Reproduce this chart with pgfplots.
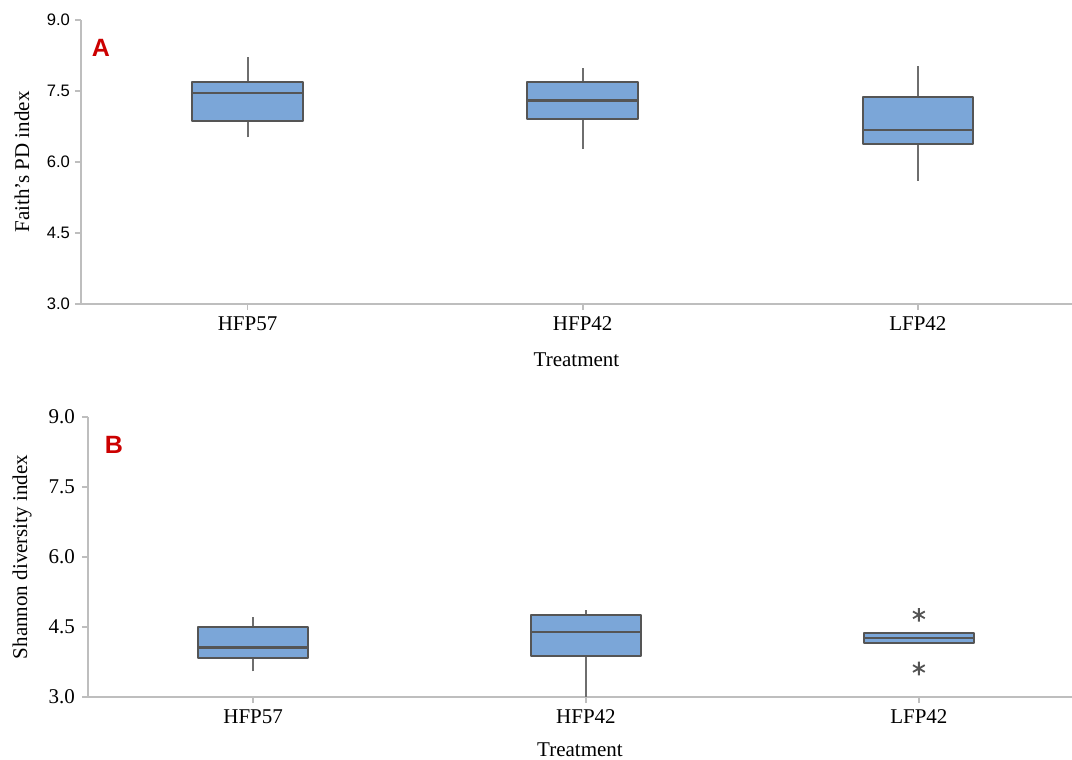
\documentclass[border=0pt]{standalone}
\usepackage{pgfplots}
\pgfplotsset{compat=1.18}
\usepackage{fontspec}
\setmainfont{Liberation Serif}
\newfontfamily\sansf{Liberation Sans}
\definecolor{boxfill}{RGB}{123,166,216}
\definecolor{boxline}{RGB}{85,85,85}
\definecolor{whiskc}{RGB}{110,110,110}
\definecolor{axisc}{RGB}{190,190,190}
\definecolor{lblred}{RGB}{204,0,0}
\pgfplotsset{
  panel/.style={
    scale only axis, axis lines=left, axis line style={draw=axisc, line width=0.8pt, -},
    tick align=outside, major tick length=3pt, tick style={draw=axisc, line width=0.8pt},
    ymin=3, ymax=9, ytick={3,4.5,6,7.5,9},
    xtick={0,1,2}, xticklabels={HFP57,HFP42,LFP42},
    yticklabel={\pgfmathprintnumber[fixed, fixed zerofill, precision=1, assume math mode=true]{\tick}},
    xticklabel style={font=\fontsize{10.5}{12}\selectfont, yshift=0pt},
    label style={font=\fontsize{10.5}{12}\selectfont},
    xlabel={Treatment},
    clip=false,
  },
}
% box: left x, centre x, right x, lower whisker, lower quartile, median, upper quartile, upper whisker
\newcommand{\bx}[8]{%
  \addplot[draw=whiskc, line width=1pt] coordinates {(#2,#4) (#2,#5)};
  \addplot[draw=whiskc, line width=1pt] coordinates {(#2,#7) (#2,#8)};
  \addplot[draw=boxline, fill=boxfill, line width=1pt, line join=round] coordinates {(#1,#5) (#3,#5) (#3,#7) (#1,#7)} -- cycle;
  \addplot[draw=boxline, line width=1.2pt] coordinates {(#1,#6) (#3,#6)};
}
\begin{document}
\begin{tikzpicture}
\useasboundingbox (0,0) rectangle (536pt,380pt);
% Panel A
\begin{axis}[panel, at={(40.5pt,228pt)}, anchor=south west, width=495.5pt, height=142pt,
  xmin=-0.497, xmax=2.46,
  yticklabel style={font=\sansf\fontsize{8.3}{10}\selectfont, xshift=1pt},
  ylabel={Faith's PD index},
  xlabel style={at={(axis description cs:0.5,0)}, anchor=center, yshift=-28pt},
  ylabel style={at={(axis description cs:0,0.5)}, anchor=center, yshift=29.5pt},
]
\bx{-0.165}{0}{0.165}{6.52}{6.87}{7.46}{7.70}{8.21}
\bx{0.835}{1}{1.165}{6.27}{6.91}{7.30}{7.68}{7.99}
\bx{1.835}{2}{2.165}{5.60}{6.39}{6.67}{7.38}{8.03}
\end{axis}
% Panel B
\begin{axis}[panel, at={(44pt,31.5pt)}, anchor=south west, width=492pt, height=140pt,
  xmin=-0.496, xmax=2.46,
  yticklabel style={font=\fontsize{10.5}{12}\selectfont},
  ylabel={Shannon diversity index},
  xlabel style={at={(axis description cs:0.5,0)}, anchor=center, yshift=-26.5pt},
  ylabel style={at={(axis description cs:0,0.5)}, anchor=center, yshift=33pt},
]
\bx{-0.165}{0}{0.165}{3.55}{3.84}{4.06}{4.49}{4.72}
\bx{0.835}{1}{1.165}{3.00}{3.87}{4.39}{4.75}{4.86}
\bx{1.835}{2}{2.165}{4.15}{4.15}{4.27}{4.37}{4.37}
\addplot[only marks, mark=asterisk, mark size=3.4pt, mark options={draw=boxline, line width=0.9pt}]
  coordinates {(2,4.76) (2,3.61)};
\end{axis}
\node[font=\sansf\bfseries\fontsize{12.5}{14}\selectfont, text=lblred] at (50.5pt,356pt) {A};
\node[font=\sansf\bfseries\fontsize{12.5}{14}\selectfont, text=lblred] at (57pt,157.5pt) {B};
\end{tikzpicture}
\end{document}
